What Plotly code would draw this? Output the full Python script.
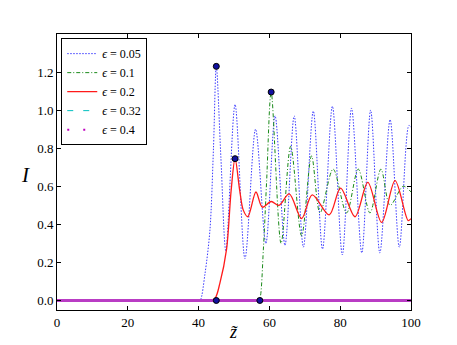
import plotly.graph_objects as go

# values (peaks / troughs of each curve)
z_005 = [0, 38.0, 40.0, 40.5, 41.8, 43.2, 44.2, 45.0, 46.3, 47.7, 50.3, 53.1, 56.1, 59.0, 61.6, 64.4, 67.0,
         69.6, 72.4, 75.0, 77.8, 80.6, 83.2, 86.1, 88.6, 91.2, 94.1, 96.7, 99.4, 100]
I_005 = [0, 0, 0, 0.003, 0.14, 0.37, 0.8, 1.23, 0.75, 0.26, 1.03, 0.22, 0.90, 0.30, 0.97, 0.29, 0.97,
         0.28, 0.995, 0.27, 1.02, 0.24, 1.01, 0.25, 1.0, 0.25, 0.95, 0.28, 0.92, 0.91]

z_01 = [0, 54.0, 56.0, 56.9, 57.3, 58.3, 59.2, 60.5, 63.3, 66.0, 69.1, 71.9, 74.3, 78.0, 81.8, 85.1,
        88.4, 91.5, 94.1, 97.8, 100]
I_01 = [0, 0, 0, 0.002, 0.01, 0.27, 0.62, 1.095, 0.30, 0.81, 0.34, 0.76, 0.46, 0.69, 0.46, 0.69,
        0.46, 0.69, 0.50, 0.60, 0.57]

z_02 = [0, 41.0, 43.0, 44.6, 46.0, 47.9, 49.2, 50.3, 51.6, 52.6, 53.9, 56.2, 58.0, 60.5, 62.7, 65.6,
        69.1, 72.1, 76.9, 80.1, 84.2, 87.8, 91.7, 95.5, 99.2, 100]
I_02 = [0, 0, 0, 0.01, 0.09, 0.27, 0.58, 0.745, 0.58, 0.476, 0.44, 0.57, 0.49, 0.52, 0.50, 0.56,
        0.43, 0.555, 0.45, 0.59, 0.44, 0.62, 0.41, 0.63, 0.42, 0.43]

z_flat = [0, 100]
I_032 = [0, 0]
I_04 = [0, 0]

mark_z = [45.0, 50.3, 60.5, 45.0, 57.3]
mark_I = [1.23, 0.745, 1.095, 0.0, 0.0]

serif = "Liberation Serif"

fig = go.Figure()

fig.add_trace(go.Scatter(x=z_005, y=I_005, mode="lines", name="<i>ϵ</i> = 0.05",
                         line=dict(color="#3a3aff", width=1, dash="1.5px,1.5px", shape="spline", smoothing=0.9)))
fig.add_trace(go.Scatter(x=z_01, y=I_01, mode="lines", name="<i>ϵ</i> = 0.1",
                         line=dict(color="#1a8a1a", width=1, dash="4px,2px,1px,2px", shape="spline", smoothing=0.9)))
fig.add_trace(go.Scatter(x=z_02, y=I_02, mode="lines", name="<i>ϵ</i> = 0.2",
                         line=dict(color="#ff1a1a", width=1.3, shape="spline", smoothing=0.9)))
fig.add_trace(go.Scatter(x=z_flat, y=I_032, mode="lines", name="<i>ϵ</i> = 0.32",
                         line=dict(color="#00bfbf", width=1, dash="6px,10px")))
# magenta line at zero drawn solid, legend entry as sparse dots
fig.add_trace(go.Scatter(x=z_flat, y=I_04, mode="lines", showlegend=False,
                         line=dict(color="#b93cc4", width=3)))
fig.add_trace(go.Scatter(x=[None], y=[None], mode="lines", name="<i>ϵ</i> = 0.4",
                         line=dict(color="#bf00bf", width=2, dash="2px,14px")))

fig.add_trace(go.Scatter(x=mark_z, y=mark_I, mode="markers", showlegend=False,
                         marker=dict(color="#1010a0", size=6, line=dict(color="black", width=1))))

axis_common = dict(showgrid=False, zeroline=False, showline=True, linecolor="black", linewidth=1,
                   mirror="ticks", ticks="inside", ticklen=4, tickcolor="black", automargin=False,
                   tickfont=dict(family=serif, size=13, color="black"))

# the page body adds an 8px offset, so the figure is a bit smaller than the window
fig.update_layout(
    width=449, height=337,
    margin=dict(l=49, r=46, t=26, b=35),
    paper_bgcolor="white", plot_bgcolor="white",
    xaxis=dict(range=[0, 100], tickvals=[0, 20, 40, 60, 80, 100], **axis_common),
    yaxis=dict(range=[-0.05, 1.4], tickvals=[0, 0.2, 0.4, 0.6, 0.8, 1.0, 1.2], tickformat=".1f",
               **axis_common),
    legend=dict(x=0.012, y=0.985, xanchor="left", yanchor="top", bgcolor="white",
                bordercolor="black", borderwidth=1, itemwidth=30, tracegroupgap=0,
                font=dict(family=serif, size=12, color="black")),
    annotations=[
        dict(text="<i>z̃</i>", xref="paper", yref="paper", x=0.5, y=0, xanchor="center", yanchor="top",
             yshift=-10, showarrow=False, font=dict(family=serif, size=18, color="black")),
        dict(text="<i>I</i>", xref="paper", yref="paper", x=0, y=0.5, xanchor="center", yanchor="middle",
             xshift=-32, yshift=-3, showarrow=False, font=dict(family=serif, size=21, color="black")),
    ],
)

fig.write_html("out.html")
